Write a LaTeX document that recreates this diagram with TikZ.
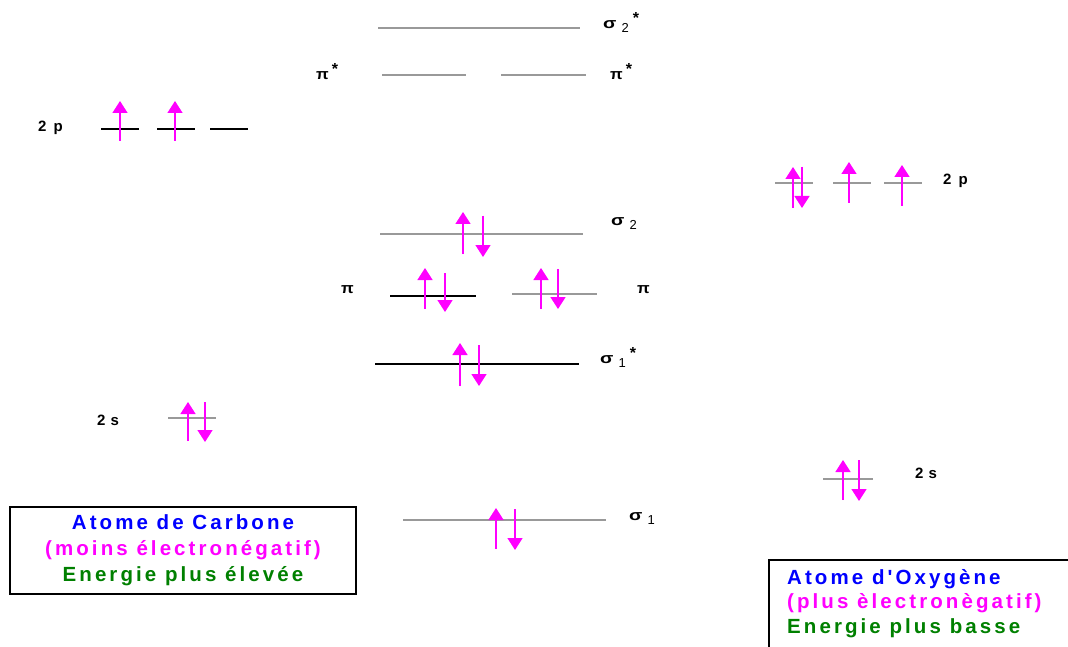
\documentclass[tikz,border=0pt]{standalone}
\usepackage{fontspec}
\setmainfont{Liberation Sans}
\newfontfamily\boxfont[LetterSpace=15]{Liberation Sans}
\newfontfamily\lblfont[LetterSpace=12]{Liberation Sans}
\usetikzlibrary{arrows.meta}

\definecolor{elec}{HTML}{FF00FF}
\definecolor{atomblue}{HTML}{0000FF}
\definecolor{atomgreen}{HTML}{008000}
\definecolor{lvlgray}{HTML}{999999}

% orbital label: sigma, index, star
\newcommand\orb[2]{\scalebox{1.3}[1]{σ}\hspace{5pt}\raisebox{-4pt}{\mdseries\fontsize{13}{13}\selectfont #1}\hspace{4pt}\raisebox{5pt}{\fontsize{16}{16}\selectfont #2}}

\begin{document}
\begin{tikzpicture}[x=1pt,y=-1pt,
  level/.style={draw=lvlgray, line width=1.6pt},
  dark/.style={draw=black, line width=1.6pt},
  spin/.style={draw=elec, fill=elec, line width=1.5pt, -{Triangle[width=15pt,length=12pt]}},
  lbl/.style={font=\lblfont\bfseries\fontsize{15}{16}\selectfont, inner sep=0pt, anchor=west},
  legend/.style={font=\boxfont\bfseries\fontsize{20.5}{26}\selectfont, inner sep=0pt}
]
\useasboundingbox (0,0) rectangle (1068,647);

% molecular levels
\draw[level] (378,28) -- (580,28);
\draw[level] (382,75) -- (466,75);
\draw[level] (501,75) -- (586,75);
\draw[level] (380,234) -- (583,234);
\draw[dark] (390,296) -- (476,296);
\draw[level] (512,294) -- (597,294);
\draw[dark] (375,364) -- (579,364);
\draw[level] (403,520) -- (606,520);

% carbon levels
\draw[dark] (101,129) -- (139,129);
\draw[dark] (157,129) -- (195,129);
\draw[dark] (210,129) -- (248,129);
\draw[level] (168,418) -- (216,418);

% oxygen levels
\draw[level] (775,183) -- (813,183);
\draw[level] (833,183) -- (871,183);
\draw[level] (884,183) -- (922,183);
\draw[level] (823,479) -- (873,479);

% electrons
\draw[spin] (120,141) -- (120,101);
\draw[spin] (175,141) -- (175,101);
\draw[spin] (188,441) -- (188,402);
\draw[spin] (205,402) -- (205,442);
\draw[spin] (793,208) -- (793,167);
\draw[spin] (802,167) -- (802,208);
\draw[spin] (849,203) -- (849,162);
\draw[spin] (902,206) -- (902,165);
\draw[spin] (843,500) -- (843,460);
\draw[spin] (859,460) -- (859,501);
\draw[spin] (463,254) -- (463,212);
\draw[spin] (483,216) -- (483,257);
\draw[spin] (425,309) -- (425,268);
\draw[spin] (445,273) -- (445,312);
\draw[spin] (541,309) -- (541,268);
\draw[spin] (558,269) -- (558,309);
\draw[spin] (460,386) -- (460,343);
\draw[spin] (479,345) -- (479,386);
\draw[spin] (496,549) -- (496,508);
\draw[spin] (515,509) -- (515,550);

% labels
\node[lbl] (s2s) at (603,22) {\orb{2}{*}};
\node[lbl] (pisl) at (316,72) {\scalebox{1.1}[1]{π}\hspace{3pt}\raisebox{5pt}{\fontsize{16}{16}\selectfont *}};
\node[lbl] (pisr) at (610,72) {\scalebox{1.1}[1]{π}\hspace{3pt}\raisebox{5pt}{\fontsize{16}{16}\selectfont *}};
\node[lbl] (s2) at (611,224) {\orb{2}{}};
\node[lbl] (pil) at (341,290) {\scalebox{1.1}[1]{π}};
\node[lbl] (pir) at (637,290) {\scalebox{1.1}[1]{π}};
\node[lbl] (s1s) at (600,357) {\orb{1}{*}};
\node[lbl] (s1) at (629,519) {\orb{1}{}};
\node[lbl] (c2p) at (38,128) {2\hspace{7pt}p};
\node[lbl] (c2s) at (97,420) {2\hspace{5pt}s};
\node[lbl] (o2p) at (943,181) {2\hspace{7pt}p};
\node[lbl] (o2s) at (915,473) {2\hspace{5pt}s};

% legends
\node[legend, draw, line width=1.2pt, minimum width=346pt, minimum height=87pt, align=center] (carbon) at (183,550.5)
  {\textcolor{atomblue}{Atome de Carbone}\\ \textcolor{elec}{(moins électronégatif)}\\ \textcolor{atomgreen}{Energie plus élevée}};
\draw[line width=1.2pt] (769,647) -- (769,560) -- (1068,560);
\node[legend, align=left, anchor=north west, font=\boxfont\bfseries\fontsize{20.5}{24.5}\selectfont] (oxygen) at (787,569)
  {\textcolor{atomblue}{Atome d'Oxygène}\\ \textcolor{elec}{(plus èlectronègatif)}\\ \textcolor{atomgreen}{Energie plus basse}};
\end{tikzpicture}
\end{document}
